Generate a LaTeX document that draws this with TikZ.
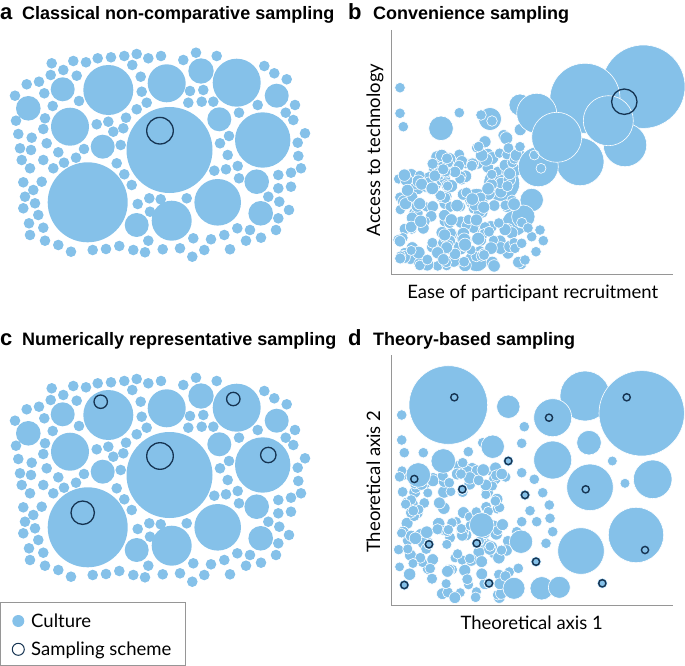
\documentclass[tikz,border=0pt]{standalone}
\usepackage{fontspec}
\newfontfamily\titlefont{Liberation Sans}
\newfontfamily\labfont{Lato}
\definecolor{cul}{RGB}{133,193,233}
\definecolor{ringc}{RGB}{22,52,82}
\definecolor{axc}{RGB}{150,150,150}
\tikzset{
  cdot/.style={fill=cul},
  culw/.style={fill=cul, draw=white, line width=0.6pt},
  ringa/.style={draw=ringc, line width=1.3pt},
  ringd/.style={draw=ringc, line width=1.4pt},
  ttl/.style={font=\titlefont\fontsize{18}{21}\selectfont\bfseries, anchor=base west, inner sep=0pt},
  plbl/.style={font=\titlefont\fontsize{22}{24}\selectfont\bfseries, anchor=base west, inner sep=0pt},
  axl/.style={font=\labfont\fontsize{18.5}{22}\selectfont, inner sep=0pt, anchor=base},
  legt/.style={font=\labfont\fontsize{18.5}{20}\selectfont, inner sep=0pt, anchor=base west},
  axisline/.style={draw=axc, line width=0.9pt},
}
\newcommand\panelcircles{%
  \foreach \x/\y/\r in {87.7/202.3/40,169.5/150/43,108.3/90/25,70/126.7/19,62.7/89.3/12,28.3/108.3/12.3,102.7/146.7/12,136.7/225/12,166.7/83.3/19,201/71/12.7,236.7/82.7/24,276.7/95.7/12,219.3/119.3/12,262.7/140/27.7,256.7/181.7/12.3,217.7/202.3/23.3,260.7/213.3/12.3,171.7/220.7/20}
    \fill[cdot] (\x,\y) circle[radius=\r*1pt];
  \foreach \x/\y in {51.7/63.3,63.3/70,73.3/61,86/62.3,97.7/58.3,111/57.3,124.3/56,136.7/54,148.3/58.3,161/56,132.3/65,140.7/76.7,141.7/91.7,146.7/102.7,136.7/109.3,126/117.7,123.3/128.3,113.3/131.7,108.3/121.7,96.7/124.3,120.7/145,39/81.7,26.7/84.3,15/95.7,44.3/93.3,50.7/75,76.7/75.7,79/101,52.7/106,45/118.3,43.3/129,16/120.7,18.3/134,31.7/137.7,46.7/143.3,20/148.3,31/150,21.7/160,43.3/160,58.3/152.3,76/157.7,84/149,64/162.7,53.3/168.3,30/168.3,23.3/182.3,41.7/181.7,33.3/190,25/196.7,35/203.3,23.3/208.3,38.3/215,29/223.3,43.3/227.7,30/235,45/240.7,58.3/245,71/251.7,92.7/250,106/249,119.3/246,133.3/250,145/252.3,162.7/249.3,148.3/240.7,150/211.7,137.7/204,149.3/198.3,160.7/199.3,131.7/185,124.3/174.3,116.7/163.3,196/52.7,216.7/56,183.3/60,190/91,203.3/90,188.3/102.7,201.7/101.7,213.3/101.7,239/112.7,257.7/105,264.3/66,274.3/73.3,286.7/79.3,295/105,285.7/112.7,293.3/120,305/133.3,297.7/142.7,229/136,220/143.3,227.7/155,298.3/156,214.3/170.7,226/169.3,237.7/166,239/178.3,291/172.7,301/168.3,278.3/175,278.3/188.3,291/186.7,268.3/196.7,279.3/201.7,289/210,278.3/218.3,276/230,261/237.7,250/230,237.3/228.3,246/240.7,224.3/235,211/239.3,193.3/238.3,180/248.3,204.3/250,192.3/256.7,230/249.3,186.7/198.3}
    \fill[cdot] (\x,\y) circle[radius=5.3pt];
}
\begin{document}
\begin{tikzpicture}[x=1pt,y=-1pt]
\useasboundingbox (0,0) rectangle (685,666);

% ---------- titles ----------
\node[plbl] (la) at (0,20) {a};
\node[ttl] (ta) at (22,20) {Classical non-comparative sampling};
\node[plbl] (lb) at (348,20) {b};
\node[ttl] (tb) at (373,20) {Convenience sampling};
\node[plbl] (lc) at (0,345) {c};
\node[ttl] (tc) at (22,345) {Numerically representative sampling};
\node[plbl] (ld) at (348,345) {d};
\node[ttl] (td) at (373,345) {Theory-based sampling};

% ---------- panel a ----------
\panelcircles
\draw[ringa] (160,130.7) circle[radius=13.3pt];

% ---------- panel c ----------
\begin{scope}[yshift=-325pt]
\panelcircles
\end{scope}
\foreach \x/\y/\r in {100.7/401.7/6.7,160/456/13.3,82.7/512.7/11.7,233.3/399/6.7,268.3/455/7.7}
  \draw[ringa] (\x,\y) circle[radius=\r*1pt];

% ---------- panel b ----------
\coordinate (bTop) at (391,30);
\coordinate (bOrig) at (391,274.3);
\coordinate (bRight) at (673,274.3);
\draw[axisline] (bTop) -- (bOrig) -- (bRight);
\node[axl] (bx) at (532.7,298) {Ease of participant recruitment};
\node[axl, rotate=90] (by) at (380,150) {Access to technology};

\foreach \x/\y/\r in {441/128.3/12.3,490/119/11.5,501.7/183.3/18,476.7/200/11.7,515/223/13,476.7/260/11.7,531.7/200/11.7,523.3/216.7/11.7}
  \fill[culw] (\x,\y) circle[radius=\r*1pt];
\pgfmathsetseed{2024}
\foreach \i in {1,...,230}{
  \pgfmathsetmacro\px{398+124*rnd}
  \pgfmathsetmacro\yt{170-0.35*(\px-398)}
  \pgfmathsetmacro\py{\yt+(266-\yt)*rnd}
  \pgfmathsetmacro\pr{5+1.6*rnd}
  \fill[culw] (\px,\py) circle[radius=\pr*1pt];
}
\foreach \x/\y in {400/87.7,400/113.3,403.3/126.7,459.3/112.7,531.7/236.7,543.3/240.7,536/251.7,525/260,515/248.3,521.7/243.3,528/228,540/230,520/146.7,481/115,492/121}
  \fill[culw] (\x,\y) circle[radius=5.3pt];
\foreach \x/\y/\r in {520/105/11,643.3/86.7/41.7,585/98.3/35,536.7/113.3/20,625/145/21.7,580/161.7/24,538.3/166.7/20,556.7/137.3/25,608.3/120.7/25}
  \fill[culw] (\x,\y) circle[radius=\r*1pt];
\foreach \x/\y in {534.3/155,541/168.3}
  \draw[white, line width=0.6pt] (\x,\y) circle[radius=5pt];
\draw[ringa] (624.3,101.7) circle[radius=12.7pt];

% ---------- panel d ----------
\coordinate (dTop) at (391,355);
\coordinate (dOrig) at (391,605);
\coordinate (dRight) at (673,605);
\draw[axisline] (dTop) -- (dOrig) -- (dRight);
\node[axl] (dx) at (531.7,629.5) {Theoretical axis 1};
\node[axl, rotate=90] (dy) at (380,481.7) {Theoretical axis 2};

\pgfmathsetseed{77}
\foreach \i in {1,...,150}{
  \pgfmathsetmacro\px{398+112*rnd}
  \pgfmathsetmacro\py{466+132*rnd}
  \pgfmathsetmacro\pr{4.9+1.4*rnd}
  \fill[culw] (\px,\py) circle[radius=\pr*1pt];
}
\foreach \x/\y in {401.7/415,401.7/440,404.3/452.7,423.3/452.7,468.3/451.7,482.7/442.7,524.3/426.7,521.7/443.3,521.7/472.7,534.3/479.3,542.7/492.7,549.3/505,530/510.7,550/518.3,536.7/521.7,552.7/531.7,546/543.3,521.7/521.7,516.7/531.7,518.3/568.3,462.7/462.7,461/474,449.3/482.7}
  \fill[culw] (\x,\y) circle[radius=5.3pt];
\foreach \x/\y/\r in {448.3/405/39.3,508.3/406.7/11.7,443.3/461/12.3,492.7/446.7/11.7,418.3/475/12.3,481.7/525/12.3,521/541.7/11.7,514/588.3/11,541.7/588.3/11.7,559.3/587.3/11,585/396/25,641.7/413.3/42.7,552.7/417.7/19,589/442.7/12.3,552.7/460/19,612.3/461/5,625/483.3/5,652.7/479.3/19.3,590/487.3/23.3,636/535/27.7,581/551/23.3}
  \fill[culw] (\x,\y) circle[radius=\r*1pt];
\foreach \x/\y in {508.3/461,462.3/489.3,525/495,429/544.3,476.7/543.3,536/561.7,404.3/585,489/583.3,602.3/583.3}
  \fill[culw] (\x,\y) circle[radius=5.3pt];
\foreach \x/\y in {454.3/397.3,549/417.7,626.7/397.3,508.3/461,414.3/479,462.3/489.3,525/495,585.7/489.3,429/544.3,476.7/543.3,536/561.7,645/550,404.3/585,489/583.3,602.3/583.3}
  \draw[ringd] (\x,\y) circle[radius=3.6pt];

% ---------- legend ----------
\draw[draw=axc, line width=0.8pt] (0.5,602.3) rectangle (185.7,665.3);
\fill[cdot] (18.3,621) circle[radius=6pt];
\draw[draw=ringc, line width=1pt] (18.3,649.3) circle[radius=6pt];
\node[legt] (lgc) at (31,627) {Culture};
\node[legt] (lgs) at (31,655) {Sampling scheme};
\end{tikzpicture}
\end{document}
